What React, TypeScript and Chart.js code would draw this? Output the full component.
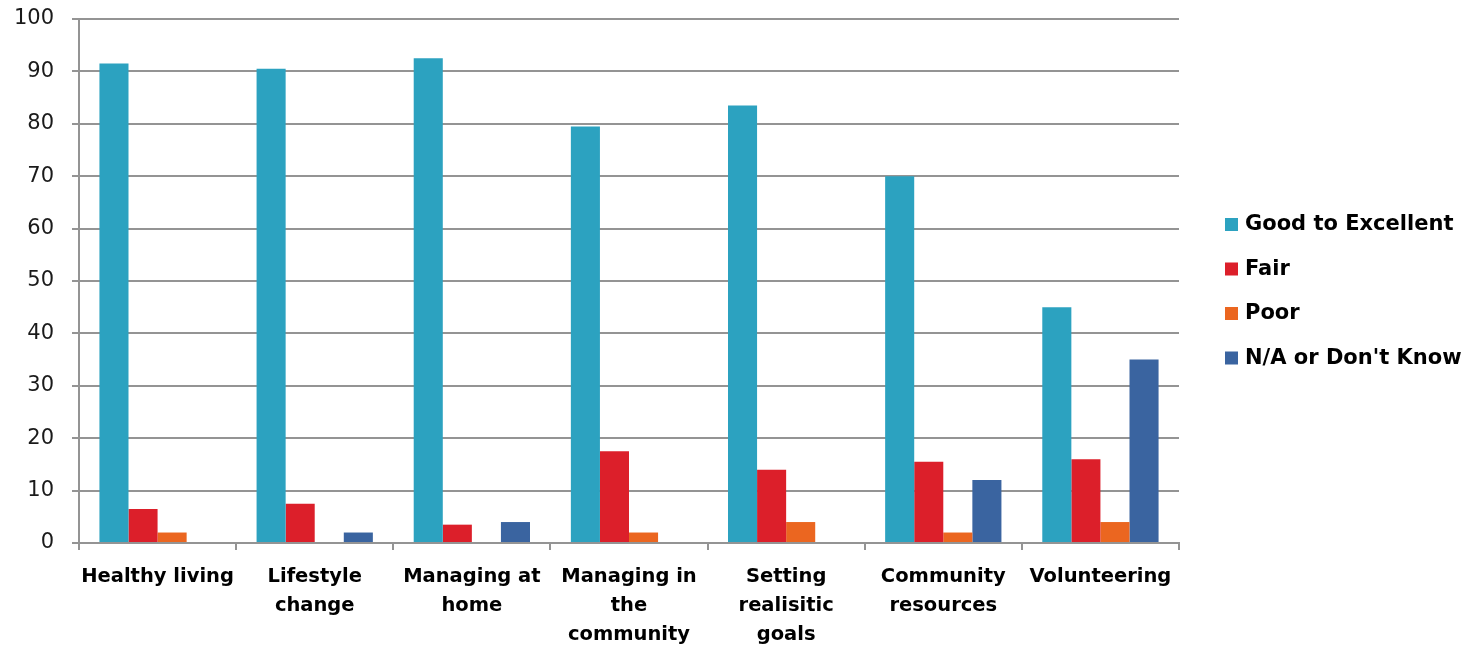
import React, { useEffect, useRef } from "react";
import { Chart, registerables } from "chart.js";

Chart.register(...registerables);

const categories: (string | string[])[] = [
  "Healthy living",
  ["Lifestyle", "change"],
  ["Managing at", "home"],
  ["Managing in", "the", "community"],
  ["Setting", "realisitic", "goals"],
  ["Community", "resources"],
  "Volunteering",
];
const goodToExcellent = [91.5, 90.5, 92.5, 79.5, 83.5, 70, 45];
const fair = [6.5, 7.5, 3.5, 17.5, 14, 15.5, 16];
const poor = [2, 0, 0, 2, 4, 2, 4];
const notApplicable = [0, 2, 4, 0, 0, 12, 35];
const seriesNames = ["Good to Excellent", "Fair", "Poor", "N/A or Don't Know"];
const seriesColors = ["#2ca2c0", "#dc1f2a", "#eb6620", "#3a64a0"];
const yTicks = [0, 10, 20, 30, 40, 50, 60, 70, 80, 90, 100];

const FONT = "'DejaVu Sans', sans-serif";

const legendPlugin = {
  id: "customLegend",
  afterDraw(chart: any) {
    const ctx = chart.ctx;
    ctx.save();
    ctx.font = `bold 21px ${FONT}`;
    ctx.textBaseline = "middle";
    ctx.textAlign = "left";
    const x0 = chart.chartArea.right + 46;
    const startY = 224;
    const gap = 44.5;
    chart.data.datasets.forEach((ds: any, i: number) => {
      const y = startY + i * gap;
      ctx.fillStyle = ds.backgroundColor;
      ctx.fillRect(x0, y - 6, 13, 13);
      ctx.fillStyle = "#000";
      ctx.fillText(ds.label, x0 + 20, y + 1);
    });
    ctx.restore();
  },
};

export default function App() {
  const ref = useRef<HTMLCanvasElement>(null);
  useEffect(() => {
    if (!ref.current) return;
    const data = [goodToExcellent, fair, poor, notApplicable];
    const chart = new Chart(ref.current, {
      type: "bar",
      data: {
        labels: categories,
        datasets: data.map((d, i) => ({
          label: seriesNames[i],
          data: d,
          backgroundColor: seriesColors[i],
          borderWidth: 0,
          categoryPercentage: 0.74,
          barPercentage: 1,
        })),
      },
      options: {
        animation: false,
        responsive: false,
        layout: { padding: { left: 0, right: 284, top: 19, bottom: 0 } },
        plugins: { legend: { display: false }, tooltip: { enabled: false } },
        scales: {
          x: {
            grid: {
              drawOnChartArea: false,
              drawTicks: true,
              tickLength: 7,
              color: "#949494",
              lineWidth: 2,
              offset: true,
            },
            border: { color: "#949494", width: 2 },
            ticks: {
              color: "#000",
              font: { family: FONT, size: 19.5, weight: "bold", lineHeight: 1.48 },
              padding: 13,
              maxRotation: 0,
              autoSkip: false,
            },
            afterFit: (s: any) => {
              s.height = 103;
              s.paddingLeft = 0;
              s.paddingRight = 0;
              s.paddingTop = 0;
              s.paddingBottom = 0;
            },
          },
          y: {
            min: 0,
            max: 100,
            afterBuildTicks: (s: any) => {
              s.ticks = yTicks.map((v) => ({ value: v }));
            },
            grid: { color: "#949494", lineWidth: 2, tickLength: 7 },
            border: { color: "#949494", width: 2 },
            ticks: {
              color: "#1a1a1a",
              font: { family: FONT, size: 21 },
              padding: 18,
            },
            afterFit: (s: any) => {
              s.width = 79;
              s.paddingTop = 0;
              s.paddingBottom = 0;
              s.paddingLeft = 0;
              s.paddingRight = 0;
            },
          },
        },
      },
      plugins: [legendPlugin],
    });
    return () => chart.destroy();
  }, []);
  return (
    <div style={{ position: "fixed", left: 0, top: 0, width: 1463, height: 646, background: "#fff" }}>
      <canvas ref={ref} width={1463} height={646} style={{ width: 1463, height: 646 }} />
    </div>
  );
}
